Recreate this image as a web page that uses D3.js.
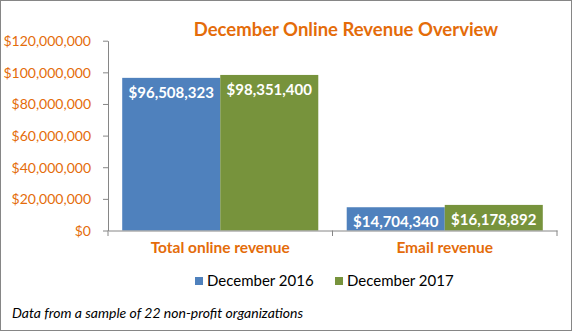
<!DOCTYPE html>
<html><head><meta charset="utf-8">
<script src="https://cdn.jsdelivr.net/npm/d3@7"></script>
<style>body{margin:0;background:#fff}svg{display:block}text{font-family:Lato,"Open Sans",sans-serif}</style>
</head><body><svg id="c" width="572" height="331"></svg>
<script>
const categories = ["Total online revenue", "Email revenue"];
const seriesNames = ["December 2016", "December 2017"];
const values2016 = [96508323, 14704340];
const values2017 = [98351400, 16178892];
const yTicks = [0, 20000000, 40000000, 60000000, 80000000, 100000000, 120000000];
const title = "December Online Revenue Overview";
const footnote = "Data from a sample of 22 non-profit organizations";

const colors = ["#4F81BD", "#77933C"];
const orange = "#E46C0A";
const svg = d3.select("#c");
svg.append("rect").attr("x",0.5).attr("y",0.5).attr("width",571).attr("height",330).attr("fill","#fff").attr("stroke","#868686");

const x0 = d3.scaleBand().domain(categories).range([108,557]).paddingInner(0).paddingOuter(0);
const x1 = d3.scaleBand().domain(seriesNames).range([0,x0.bandwidth()]).paddingOuter(0.145).paddingInner(0);
const y = d3.scaleLinear().domain([0,120000000]).range([230.5,40.7]);
const fmt = d => "$" + d3.format(",")(d);

svg.append("text").attr("x",346).attr("y",36).attr("text-anchor","middle").attr("fill",orange)
  .attr("font-size",18.5).attr("font-weight","bold").text(title);

// y axis
const ya = svg.append("g").attr("transform","translate(108,0)")
  .call(d3.axisLeft(y).tickValues(yTicks).tickFormat(fmt).tickSize(5).tickSizeOuter(0));
ya.select(".domain").attr("stroke","#868686");
ya.selectAll(".tick line").attr("stroke","#868686");
ya.selectAll(".tick text").attr("fill",orange).attr("font-size",14).attr("font-family","Lato").attr("x",-17).attr("dy","0.35em");

// bars
const data = categories.map((c,i)=>({cat:c, vals:[values2016[i], values2017[i]]}));
const g = svg.append("g");
data.forEach(d=>{
  d.vals.forEach((v,j)=>{
    const bx = x0(d.cat)+x1(seriesNames[j]);
    g.append("rect").attr("x",bx).attr("y",y(v)).attr("width",x1.bandwidth()).attr("height",y(0)-y(v)).attr("fill",colors[j]);
    g.append("text").attr("x",bx+x1.bandwidth()/2).attr("y",y(v)+20).attr("text-anchor","middle")
      .attr("fill","#fff").attr("font-weight","bold").attr("font-size",15).text(fmt(v));
  });
});

// x axis
const xa = svg.append("g").attr("transform","translate(0,230.5)")
  .call(d3.axisBottom(x0).tickSize(0).tickSizeOuter(0));
xa.select(".domain").attr("stroke","#868686");
xa.selectAll(".tick text").attr("fill",orange).attr("font-weight","bold").attr("font-size",15.5).attr("font-family","Lato").attr("dy",0).attr("y",22);
const bounds = [108, x0(categories[1]), 557];
bounds.forEach(b=>svg.append("line").attr("x1",b).attr("x2",b).attr("y1",230.5).attr("y2",236).attr("stroke","#868686"));

// legend
const lg = svg.append("g");
const lx = [195, 335];
seriesNames.forEach((s,i)=>{
  lg.append("rect").attr("x",lx[i]).attr("y",277).attr("width",8).attr("height",8).attr("fill",colors[i]);
  lg.append("text").attr("x",lx[i]+12).attr("y",286).attr("font-size",15).attr("fill","#000").text(s);
});

svg.append("text").attr("x",12).attr("y",318).attr("font-size",14).attr("font-style","italic").attr("fill","#000").text(footnote);
</script></body></html>
